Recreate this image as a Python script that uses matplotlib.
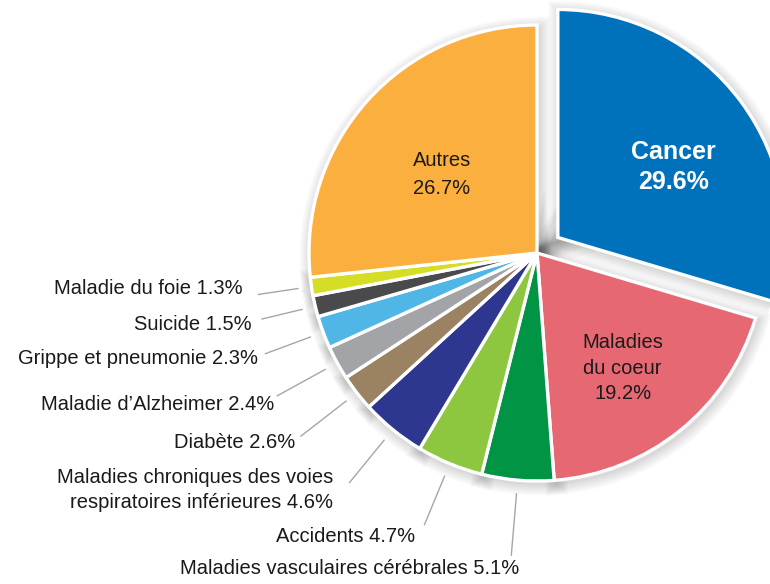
import numpy as np
import matplotlib.pyplot as plt
from matplotlib.patches import Wedge

plt.rcParams['font.family'] = ['Liberation Sans', 'DejaVu Sans']

# causes de décès, en % du total, dans le sens horaire depuis le haut
causes = ['Cancer', 'Maladies\ndu coeur', 'Maladies vasculaires cérébrales', 'Accidents',
          'Maladies chroniques des voies\nrespiratoires inférieures', 'Diabète',
          'Maladie d\u2019Alzheimer', 'Grippe et pneumonie', 'Suicide',
          'Maladie du foie', 'Autres']
pct = [29.6, 19.2, 5.1, 4.7, 4.6, 2.6, 2.4, 2.3, 1.5, 1.3, 26.7]
colors = ['#0072BC', '#E66873', '#009444', '#8DC63F', '#2E3790', '#9A8262',
          '#A2A4A7', '#50B6E6', '#4A4A4C', '#D5DE24', '#FBAF3F']

W, H = 770, 584
cx, cy, R = 537, H - 253, 228

fig = plt.figure(figsize=(7.7, 5.84), dpi=100)
ax = fig.add_axes([0, 0, 1, 1])

explode = [26] + [0] * (len(pct) - 1)   # en pixels (axes en pixels)
wedges, _ = ax.pie(pct, colors=colors, startangle=90, counterclock=False,
                   explode=explode, center=(cx, cy), radius=R,
                   wedgeprops=dict(edgecolor='white', linewidth=2.4),
                   frame=True)
ax.set_xlim(0, W)
ax.set_ylim(0, H)
ax.set_aspect('equal')
ax.axis('off')

# ombre douce
for w in wedges:
    for k in range(8):
        sh = Wedge((w.center[0] + 2, w.center[1] - 3), w.r, w.theta1, w.theta2,
                   facecolor='none', edgecolor='black', linewidth=1 + 2.2 * k,
                   alpha=0.02, zorder=0.5)
        ax.add_patch(sh)

def mid(w):
    a = np.deg2rad((w.theta1 + w.theta2) / 2)
    return np.cos(a), np.sin(a)

# étiquettes intérieures (rayon relatif, décalage px, interligne, style)
inside = {0: (0.60, (6, -11), 1.3, dict(color='white', fontsize=18, fontweight='bold')),
          1: (0.62, (-3, -5), 1.45, dict(color='#1A1A1A', fontsize=14.5)),
          10: (0.56, (0, -7), 1.6, dict(color='#1A1A1A', fontsize=14.5))}
for i, (rf, (dx, dy), ls, kw) in inside.items():
    w = wedges[i]
    ux, uy = mid(w)
    ax.text(w.center[0] + ux * R * rf + dx, w.center[1] + uy * R * rf + dy,
            f'{causes[i]}\n{pct[i]:.1f}%', ha='center', va='center',
            linespacing=ls, **kw)

# étiquettes extérieures avec traits de rappel
label_xy = {2: (519, 569), 3: (415, 537), 4: (333, 490), 5: (295, 443),
            6: (274, 404), 7: (258, 359), 8: (252, 325), 9: (243, 289)}
outer_r = {2: 1.33, 3: 1.29, 4: 1.30, 5: 1.31, 6: 1.30, 7: 1.27, 8: 1.24, 9: 1.235}
for i, (tx, ty) in label_xy.items():
    ux, uy = mid(wedges[i])
    ax.plot([cx + ux * R * 1.06, cx + ux * R * outer_r[i]],
            [cy + uy * R * 1.06, cy + uy * R * outer_r[i]],
            color='#A6A6A6', linewidth=1.0, zorder=1)
    ax.text(tx, H - ty, f'{causes[i]} {pct[i]:.1f}%', ha='right', va='center',
            multialignment='right', fontsize=14.5, color='#1A1A1A', linespacing=1.35)

fig.savefig('out.png', dpi=100)
